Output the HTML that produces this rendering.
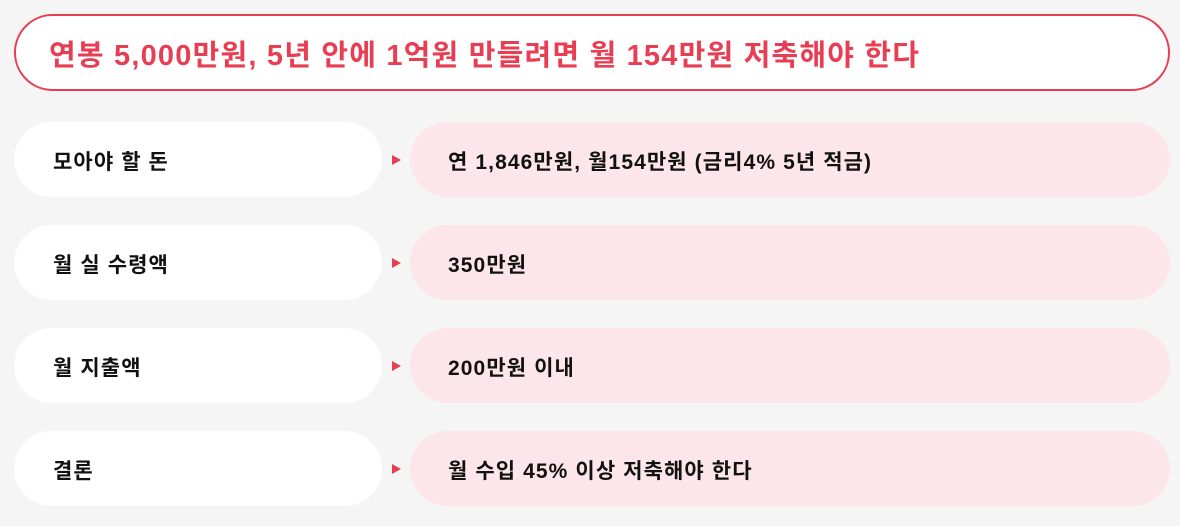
<!DOCTYPE html>
<html lang="ko"><head><meta charset="utf-8">
<style>
html,body{margin:0;padding:0}
body{width:1180px;height:526px;background:#f5f5f5;position:relative;overflow:hidden;font-family:"Liberation Sans","Noto Sans CJK KR",sans-serif}
.title{position:absolute;left:14px;top:14px;width:1152px;height:73px;border:2px solid #e83e54;border-radius:40px;background:#fff;box-sizing:content-box}
.title span{position:absolute;left:33px;top:16px;font-size:29px;font-weight:bold;color:#e83e54;letter-spacing:1.2px;white-space:nowrap}
.l{position:absolute;left:14px;width:368px;height:75px;border-radius:38px;background:#fff}
.r{position:absolute;left:410px;width:760px;height:75px;border-radius:38px;background:#fce6eb}
.l span,.r span{position:absolute;top:24px;font-size:21px;font-weight:bold;color:#111;white-space:nowrap;letter-spacing:1.1px}
.l span{left:39px}.r span{left:38px}
.arrow{position:absolute;left:392px;width:0;height:0;border-top:5px solid transparent;border-bottom:5px solid transparent;border-left:9px solid #e83e54}
</style></head><body>
<div class="title"><span>연봉 5,000만원, 5년 안에 1억원 만들려면 월 154만원 저축해야 한다</span></div>

<div class="l" style="top:122px"><span>모아야 할 돈</span></div>
<div class="arrow" style="top:155px"></div>
<div class="r" style="top:122px"><span>연 1,846만원, 월154만원 (금리4% 5년 적금)</span></div>

<div class="l" style="top:225px"><span>월 실 수령액</span></div>
<div class="arrow" style="top:258px"></div>
<div class="r" style="top:225px"><span>350만원</span></div>

<div class="l" style="top:328px"><span>월 지출액</span></div>
<div class="arrow" style="top:361px"></div>
<div class="r" style="top:328px"><span>200만원 이내</span></div>

<div class="l" style="top:431px"><span>결론</span></div>
<div class="arrow" style="top:464px"></div>
<div class="r" style="top:431px"><span>월 수입 45% 이상 저축해야 한다</span></div>
</body></html>
